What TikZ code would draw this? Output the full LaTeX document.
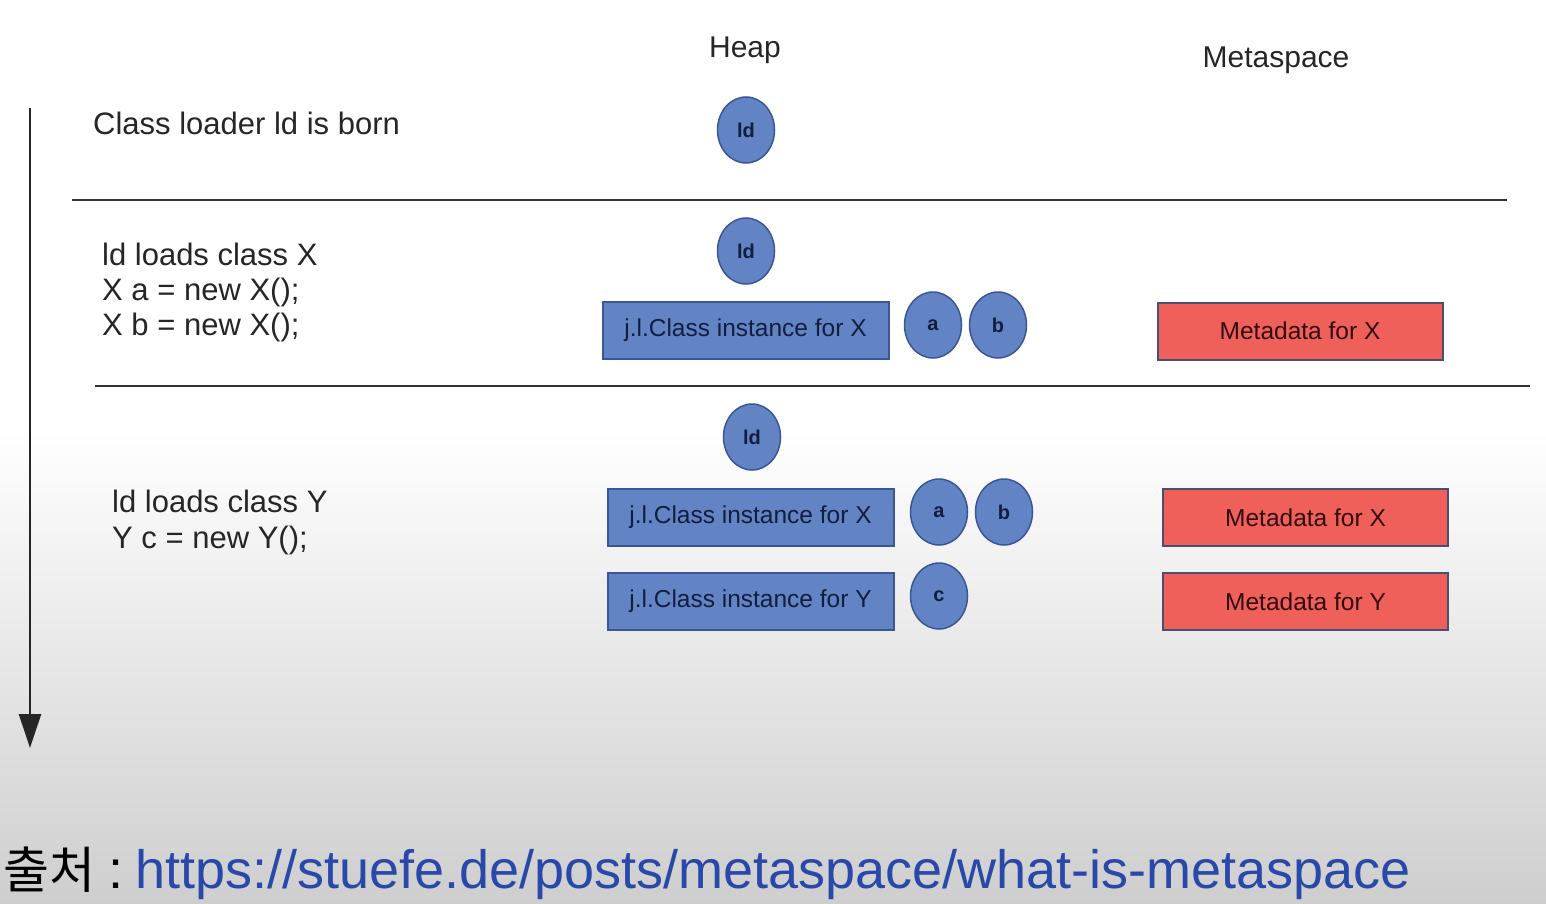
\documentclass[tikz,border=0pt]{standalone}
\usepackage{fontspec}
\setmainfont{Liberation Sans}
\newfontfamily\krfont{Noto Sans CJK KR}
\usetikzlibrary{shapes.geometric,arrows.meta}
\definecolor{objfill}{RGB}{98,131,196}
\definecolor{objdraw}{RGB}{58,86,148}
\definecolor{objtext}{RGB}{18,30,62}
\definecolor{metafill}{RGB}{239,96,90}
\definecolor{metadraw}{RGB}{72,80,112}
\definecolor{metatext}{RGB}{50,12,12}
\definecolor{sepline}{RGB}{50,50,50}
\definecolor{urlblue}{RGB}{40,72,170}
\definecolor{bggray}{RGB}{206,206,206}
\tikzset{
  obj/.style={ellipse, draw=objdraw, line width=1.5pt, fill=objfill, minimum width=57pt, minimum height=66pt, inner sep=0pt, text=objtext, font=\bfseries\fontsize{20}{24}\selectfont},
  heapbox/.style={rectangle, draw=objdraw, line width=2pt, fill=objfill, minimum width=286pt, minimum height=57pt, inner sep=0pt, text=objtext, font=\fontsize{24.5}{28}\selectfont},
  metabox/.style={rectangle, draw=metadraw, line width=2pt, fill=metafill, minimum width=285pt, minimum height=57pt, inner sep=0pt, text=metatext, font=\fontsize{24.5}{28}\selectfont},
  lbl/.style={anchor=base west, inner sep=0pt, text=black!85, font=\fontsize{31}{35}\selectfont},
  head/.style={anchor=base, inner sep=0pt, text=black!85, font=\fontsize{30}{35}\selectfont},
  sep/.style={draw=sepline, line width=2pt},
}
\begin{document}
\begin{tikzpicture}[x=1pt,y=-1pt]
\useasboundingbox (0,0) rectangle (1546,904);
\fill[white] (0,0) rectangle (1546,904);
\shade[top color=white, bottom color=bggray] (0,430) rectangle (1546,904);

% headings
\node[head] (heap) at (745,58) {Heap};
\node[head] (meta) at (1276,68) {Metaspace};

% time arrow
\coordinate (tstart) at (30,108);
\coordinate (tend) at (30,748);
\draw[line width=2.5pt, black!85, -{Triangle[width=22pt,length=34pt]}] (tstart) -- (tend);

% section 1
\node[lbl] (t1) at (93,135) {Class loader ld is born};
\node[obj] (ld1) at (746,130) {ld};

\coordinate (s1a) at (72,200);
\coordinate (s1b) at (1507,200);
\draw[sep] (s1a) -- (s1b);

% section 2
\node[lbl] (t2a) at (102,265) {ld loads class X};
\node[lbl] (t2b) at (102,300) {X a = new X();};
\node[lbl] (t2c) at (102,335) {X b = new X();};
\node[obj] (ld2) at (746,251) {ld};
\node[heapbox] (cx2) at (745.5,330.5) {j.l.Class instance for X};
\node[obj] (a2) at (933,325) {a};
\node[obj] (b2) at (998,325) {b};
\node[metabox] (mx2) at (1300,331) {Metadata for X};

\coordinate (s2a) at (95,386);
\coordinate (s2b) at (1530,386);
\draw[sep] (s2a) -- (s2b);

% section 3
\node[lbl] (t3a) at (112,512) {ld loads class Y};
\node[lbl] (t3b) at (112,548) {Y c = new Y();};
\node[obj] (ld3) at (752,437) {ld};
\node[heapbox] (cx3) at (750.5,517.5) {j.l.Class instance for X};
\node[obj] (a3) at (939,512) {a};
\node[obj] (b3) at (1004,512) {b};
\node[heapbox] (cy3) at (750.5,601.5) {j.l.Class instance for Y};
\node[obj] (c3) at (939,596) {c};
\node[metabox] (mx3) at (1305.5,517.5) {Metadata for X};
\node[metabox] (my3) at (1305.5,601.5) {Metadata for Y};

% source line
\node[anchor=base west, inner sep=0pt] (src) at (3,888) {{\krfont\fontsize{50}{56}\selectfont 출처}\fontsize{54}{60}\selectfont\hspace{13pt}:\hspace{12pt}\textcolor{urlblue}{https://stuefe.de/posts/metaspace/what-is-metaspace}};
\end{tikzpicture}
\end{document}
